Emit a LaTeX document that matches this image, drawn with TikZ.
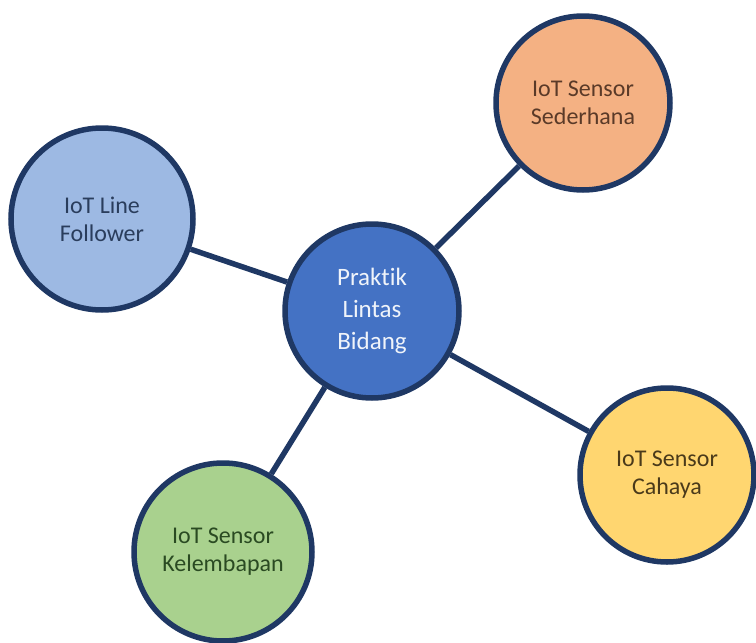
\documentclass[tikz,border=0pt]{standalone}
\usepackage{fontspec}
\setmainfont[Ligatures=NoCommon]{Carlito}
\definecolor{navy}{HTML}{1F3864}
\definecolor{cblue}{HTML}{4472C4}
\definecolor{corange}{HTML}{F4B183}
\definecolor{clblue}{HTML}{9DB9E3}
\definecolor{cyellow}{HTML}{FFD670}
\definecolor{cgreen}{HTML}{A9D18E}
\definecolor{tor}{HTML}{5A3A28}
\definecolor{tbl}{HTML}{2A3D5C}
\definecolor{tye}{HTML}{4A3A1A}
\definecolor{tgr}{HTML}{2A4A22}
\begin{document}
\begin{tikzpicture}[x=1pt,y=-1pt,
  bub/.style={circle,draw=navy,line width=5.5pt,minimum size=174pt,inner sep=0pt,align=center,font=\fontsize{24}{28}\selectfont},
  link/.style={draw=navy,line width=5.5pt}]
\useasboundingbox (0,0) rectangle (756,643);
\node[bub,fill=cblue,text=white!92!cblue,font=\fontsize{25}{32}\selectfont] (c) at (372,311) {Praktik\\Lintas\\Bidang};
\node[bub,fill=corange,text=tor] (o) at (583,103) {IoT Sensor\\Sederhana};
\node[bub,fill=clblue,text=tbl,minimum size=182pt] (b) at (102,219) {IoT Line\\Follower};
\node[bub,fill=cyellow,text=tye] (y) at (667,475) {IoT Sensor\\Cahaya};
\node[bub,fill=cgreen,text=tgr,minimum size=178pt] (g) at (223,552) {IoT Sensor\\Kelembapan};
\draw[link] (c) -- (o);
\draw[link] (c) -- (b);
\draw[link] (c) -- (y);
\draw[link] (c) -- (g);
\end{tikzpicture}
\end{document}
